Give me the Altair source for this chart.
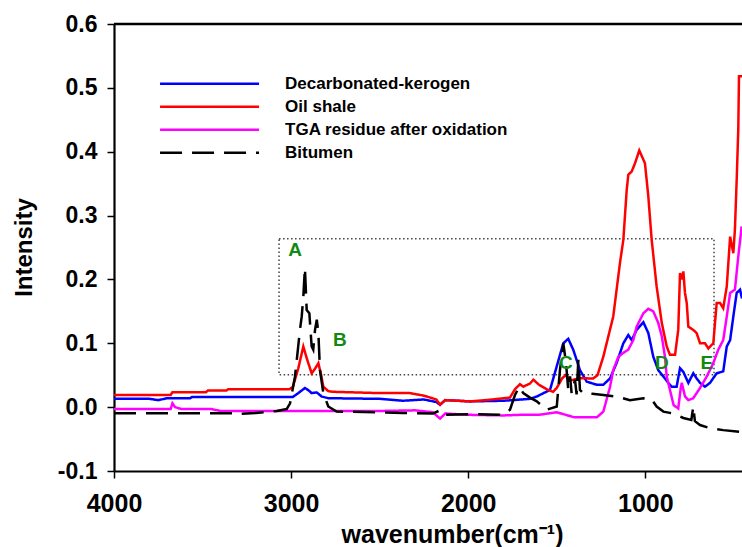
import altair as alt
import pandas as pd

# ---- FTIR spectra: wavenumber (cm-1) and intensity for each sample ----
kerogen_wn = [4000, 3800, 3750, 3700, 3570, 3560, 3010, 2990, 2959, 2922, 2900, 2884,
              2855, 2827, 2790, 2500, 2370, 2250, 2180, 2159, 2130, 1990, 1800, 1650,
              1613, 1538, 1500, 1463, 1435, 1407, 1369, 1331, 1274, 1237, 1199, 1162,
              1124, 1096, 1077, 1049, 1011, 983, 955, 927, 898, 870, 851, 823, 804,
              785, 757, 729, 710, 691, 663, 635, 597, 560, 540, 521, 503, 484, 465, 454]
kerogen_int = [0.013, 0.013, 0.011, 0.014, 0.014, 0.0157, 0.0157, 0.016, 0.022, 0.030,
               0.026, 0.022, 0.023, 0.0166, 0.014, 0.013, 0.010, 0.012, 0.008, 0.0036,
               0.011, 0.009, 0.010, 0.013, 0.0166, 0.027, 0.064, 0.100, 0.107, 0.090,
               0.058, 0.040, 0.035, 0.035, 0.045, 0.069, 0.100, 0.113, 0.105, 0.121,
               0.133, 0.116, 0.079, 0.058, 0.048, 0.038, 0.032, 0.032, 0.061, 0.055,
               0.038, 0.053, 0.045, 0.038, 0.032, 0.038, 0.053, 0.056, 0.095, 0.105,
               0.142, 0.179, 0.184, 0.170]

shale_wn = [4000, 3680, 3670, 3480, 3470, 3365, 3355, 3010, 2990, 2960, 2931, 2910,
            2884, 2865, 2846, 2830, 2818, 2790, 2763, 2500, 2330, 2250, 2180, 2159,
            2130, 1990, 1900, 1764, 1736, 1708, 1689, 1651, 1632, 1600, 1557, 1521,
            1500, 1470, 1450, 1420, 1369, 1320, 1294, 1270, 1237, 1181, 1143, 1124,
            1105, 1096, 1077, 1058, 1034, 1002, 983, 964, 936, 907, 879, 861, 832,
            814, 804, 795, 785, 776, 766, 757, 729, 710, 691, 663, 644, 616, 597,
            578, 560, 540, 521, 503, 494, 484, 475, 471, 454]
shale_int = [0.019, 0.019, 0.0235, 0.0235, 0.026, 0.026, 0.028, 0.028, 0.032, 0.060,
             0.095, 0.075, 0.053, 0.060, 0.069, 0.050, 0.032, 0.025, 0.024, 0.022,
             0.022, 0.018, 0.012, 0.004, 0.011, 0.009, 0.011, 0.015, 0.028, 0.036,
             0.032, 0.037, 0.043, 0.035, 0.028, 0.024, 0.030, 0.045, 0.050, 0.042,
             0.0455, 0.045, 0.045, 0.050, 0.079, 0.142, 0.226, 0.262, 0.340, 0.364,
             0.369, 0.382, 0.402, 0.382, 0.330, 0.262, 0.189, 0.132, 0.095, 0.082,
             0.082, 0.121, 0.210, 0.200, 0.2125, 0.179, 0.163, 0.126, 0.121, 0.116,
             0.100, 0.100, 0.092, 0.100, 0.163, 0.163, 0.155, 0.189, 0.267, 0.241,
             0.278, 0.356, 0.435, 0.518, 0.518]

residue_wn = [4000, 3680, 3670, 3655, 3620, 3450, 3400, 2500, 2300, 2200, 2159, 2130,
              2000, 1800, 1700, 1600, 1500, 1400, 1274, 1237, 1199, 1181, 1152, 1124,
              1096, 1068, 1049, 1011, 983, 955, 927, 907, 889, 879, 861, 840, 814, 800,
              794, 776, 757, 729, 691, 653, 616, 588, 560, 540, 521, 494, 475, 456]
residue_int = [-0.003, -0.003, 0.006, 0.0, -0.003, -0.003, -0.006, -0.006, -0.005,
               -0.008, -0.018, -0.010, -0.012, -0.013, -0.012, -0.012, -0.008, -0.016,
               -0.016, -0.007, 0.032, 0.058, 0.079, 0.085, 0.090, 0.105, 0.126, 0.147,
               0.154, 0.150, 0.132, 0.111, 0.079, 0.048, 0.027, 0.003, -0.002, 0.030,
               0.038, 0.017, 0.011, 0.014, 0.030, 0.048, 0.069, 0.090, 0.105, 0.142,
               0.179, 0.184, 0.236, 0.283]

bitumen_wn = [4000, 3330, 3320, 3200, 3081, 3025, 3006, 2978, 2950, 2940, 2931, 2922,
              2912, 2897, 2884, 2875, 2865, 2855, 2846, 2837, 2818, 2790, 2743, 2500,
              2367, 2200, 2159, 2140, 1990, 1800, 1764, 1736, 1712, 1689, 1651, 1613,
              1557, 1500, 1482, 1463, 1448, 1435, 1425, 1416, 1397, 1388, 1378, 1369,
              1350, 1300, 1237, 1162, 1087, 1011, 964, 936, 898, 861, 823, 785, 740,
              729, 720, 691, 635, 560, 484, 454]
bitumen_int = [-0.0094, -0.0094, -0.011, -0.009, -0.006, -0.003, 0.006, 0.048, 0.121,
               0.142, 0.173, 0.218, 0.152, 0.147, 0.095, 0.090, 0.121, 0.137, 0.116,
               0.058, 0.022, 0.001, -0.007, -0.008, -0.009, -0.010, -0.005, -0.012,
               -0.011, -0.012, -0.004, 0.019, 0.032, 0.022, 0.015, 0.009, -0.004, 0.001,
               0.058, 0.100, 0.070, 0.027, 0.048, 0.022, 0.043, 0.020, 0.074, 0.027,
               0.022, 0.021, 0.019, 0.0166, 0.011, 0.014, 0.012, 0.001, -0.007, -0.009,
               -0.012, -0.017, -0.020, 0.001, -0.022, -0.028, -0.033, -0.036, -0.038,
               -0.039]

series_names = ["Decarbonated-kerogen", "Oil shale", "TGA residue after oxidation", "Bitumen"]
series_colors = ["#0000ff", "#ff0000", "#ff00ff", "#000000"]
series_dashes = [[1, 0], [1, 0], [1, 0], [22, 10]]

# band labels A-E
band_letters = ["A", "B", "C", "D", "E"]
band_wn = [2978, 2724, 1449, 907, 652]
band_int = [0.2455, 0.1055, 0.0694, 0.0694, 0.0694]

# dotted box around the bands of interest
box_wn = [3068, 612]
box_int = [0.0506, 0.2638]

# in-plot key: rows placed in data units
key_wn_start, key_wn_end, key_text_wn = 3740, 3181, 3034
key_int = [0.5064, 0.4704, 0.4343, 0.3983]

FONT = "Liberation Sans"

frames = []
for name, wn, val in [(series_names[0], kerogen_wn, kerogen_int),
                      (series_names[1], shale_wn, shale_int),
                      (series_names[2], residue_wn, residue_int),
                      (series_names[3], bitumen_wn, bitumen_int)]:
    frames.append(pd.DataFrame({"series": name, "wn": wn, "intensity": val}))
spectra = pd.concat(frames, ignore_index=True)

key_df = pd.DataFrame({"series": series_names, "x1": key_wn_start, "x2": key_wn_end,
                       "xt": key_text_wn, "y": key_int})
band_df = pd.DataFrame({"label": band_letters, "wn": band_wn, "intensity": band_int})
box_df = pd.DataFrame({"x1": [box_wn[0]], "x2": [box_wn[1]],
                       "y1": [box_int[0]], "y2": [box_int[1]]})

x_scale = alt.Scale(domain=[454, 4000], reverse=True, nice=False, zero=False)
y_scale = alt.Scale(domain=[-0.1, 0.6], nice=False, zero=False)
color_scale = alt.Scale(domain=series_names, range=series_colors)
dash_scale = alt.Scale(domain=series_names, range=series_dashes)

x_axis = alt.Axis(values=[4000, 3000, 2000, 1000], format="d",
                  title="wavenumber(cm⁻¹)", titleX=338, titleY=71,
                  titleBaseline="alphabetic", titleFontSize=25,
                  labelFontSize=25, labelPadding=13, labelFlush=False)
y_axis = alt.Axis(values=[-0.1, 0.0, 0.1, 0.2, 0.3, 0.4, 0.5, 0.6],
                  labelExpr="datum.value < 0 ? '-' + format(-datum.value, '.1f') : format(datum.value, '.1f')",
                  title="Intensity", titleX=-83, titleY=223, titleAngle=-90,
                  titleBaseline="alphabetic", titleFontSize=24,
                  labelFontSize=23, labelPadding=10, labelFlush=False)

lines = alt.Chart(spectra).mark_line(strokeWidth=2.5, clip=True).encode(
    x=alt.X("wn:Q", scale=x_scale, axis=x_axis),
    y=alt.Y("intensity:Q", scale=y_scale, axis=y_axis),
    color=alt.Color("series:N", scale=color_scale, legend=None),
    strokeDash=alt.StrokeDash("series:N", scale=dash_scale, legend=None),
)

top_frame = alt.Chart(pd.DataFrame({"y": [0.6]})).mark_rule(
    color="black", strokeWidth=2.3).encode(y=alt.Y("y:Q"))

box = alt.Chart(box_df).mark_rect(filled=False, stroke="#444444", strokeWidth=1.5,
                                  strokeDash=[1.5, 2.5]).encode(
    x="x1:Q", x2="x2:Q", y="y1:Q", y2="y2:Q")

bands = alt.Chart(band_df).mark_text(font=FONT, fontWeight="bold", fontSize=19,
                                     color="#108a10", baseline="middle").encode(
    x="wn:Q", y="intensity:Q", text="label:N")

key_lines = alt.Chart(key_df).mark_rule(strokeWidth=2.5).encode(
    x="x1:Q", x2="x2:Q", y="y:Q",
    color=alt.Color("series:N", scale=color_scale, legend=None),
    strokeDash=alt.StrokeDash("series:N", scale=dash_scale, legend=None),
)
key_text = alt.Chart(key_df).mark_text(font=FONT, fontWeight="bold", fontSize=17,
                                       align="left", baseline="middle",
                                       color="black").encode(
    x="xt:Q", y="y:Q", text="series:N")

chart = alt.layer(box, lines, top_frame, bands, key_lines, key_text).properties(
    width=628, height=447,
    padding={"left": 114, "top": 24, "right": 0, "bottom": 76},
    autosize=alt.AutoSizeParams(type="none"),
).configure_view(stroke=None).configure_axis(
    grid=False, domainColor="black", domainWidth=2.2, tickColor="black",
    tickWidth=1.5, tickSize=7, labelFont=FONT, labelFontWeight="bold",
    labelColor="black", titleFont=FONT, titleFontWeight="bold", titleColor="black",
    labelOverlap=False,
)

chart.save("out.html", embed_options={"renderer": "svg", "actions": False})
